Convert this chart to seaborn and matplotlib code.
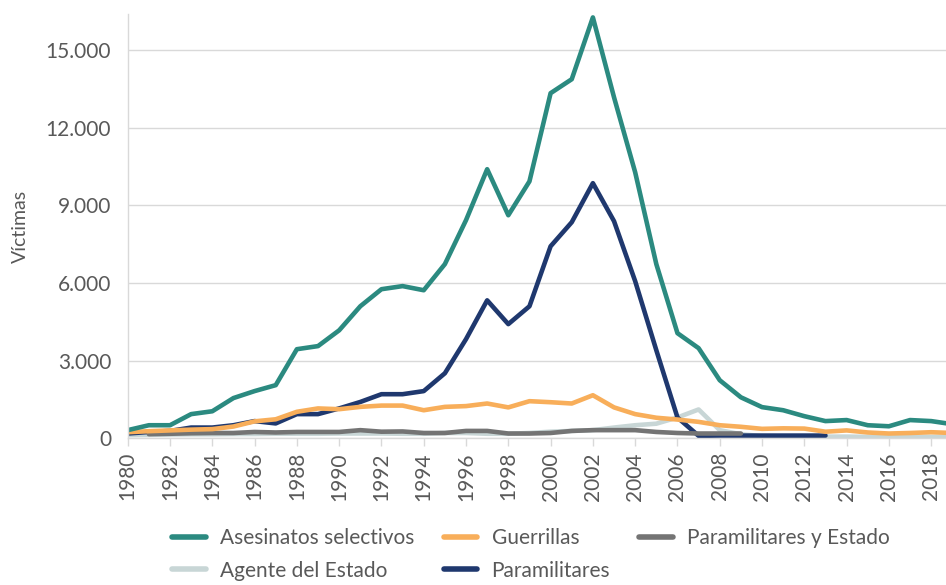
import numpy as np
import pandas as pd
import matplotlib
matplotlib.use('Agg')
import matplotlib.pyplot as plt
from matplotlib.lines import Line2D
from matplotlib.ticker import FuncFormatter
import seaborn as sns

sns.set_theme(style='white')
plt.rcParams['font.family'] = ['Lato', 'DejaVu Sans']

# Data
years = list(range(1980, 2020))

asesinatos = [310, 500, 500, 930, 1040, 1550, 1820, 2050, 3440, 3560,
              4170, 5100, 5760, 5880, 5720, 6730, 8430, 10400, 8620, 9930,
              13340, 13880, 16270, 13180, 10280, 6730, 4060, 3480, 2240, 1580,
              1200, 1080, 850, 660, 700, 500, 460, 700, 660, 540]

guerrillas = [230, 270, 300, 330, 350, 450, 650, 730, 1020, 1150,
              1120, 1210, 1260, 1260, 1080, 1210, 1240, 1340, 1190, 1430,
              1390, 1340, 1660, 1190, 930, 790, 720, 630, 500, 440,
              360, 380, 370, 250, 300, 220, 180, 200, 230, 200]

par_estado_years = list(range(1981, 2010))
par_estado = [155, 170, 190, 200, 200, 240, 220, 240, 240, 240,
              310, 250, 260, 200, 200, 280, 280, 180, 180, 200,
              280, 310, 310, 310, 240, 200, 180, 180, 180]

agente = [120, 130, 140, 150, 150, 160, 160, 170, 170, 170,
          180, 180, 180, 170, 170, 200, 200, 170, 170, 200,
          250, 280, 310, 410, 500, 560, 800, 1110, 310, 150,
          80, 70, 60, 60, 60, 50, 50, 50, 50, 50]

param_years = list(range(1980, 2014))
paramilitares = [180, 240, 280, 410, 410, 500, 660, 570, 930, 930,
                 1150, 1400, 1700, 1700, 1820, 2510, 3830, 5330, 4410, 5100,
                 7420, 8350, 9860, 8390, 6070, 3400, 800, 90, 100, 100,
                 100, 100, 100, 100]

names = ['Asesinatos selectivos', 'Guerrillas', 'Paramilitares y Estado',
         'Agente del Estado', 'Paramilitares']
colors = {'Asesinatos selectivos': '#2b8a80',
          'Guerrillas': '#f8ae5a',
          'Paramilitares y Estado': '#747474',
          'Agente del Estado': '#c8d6d6',
          'Paramilitares': '#1f386e'}

series = {'Asesinatos selectivos': (years, asesinatos),
          'Guerrillas': (years, guerrillas),
          'Paramilitares y Estado': (par_estado_years, par_estado),
          'Agente del Estado': (years, agente),
          'Paramilitares': (param_years, paramilitares)}

fig = plt.figure(figsize=(9.46, 5.85), dpi=100)
ax = fig.add_axes([0.135, 0.251, 0.865, 0.725])

draw_order = ['Agente del Estado', 'Paramilitares', 'Paramilitares y Estado',
              'Guerrillas', 'Asesinatos selectivos']
for name in draw_order:
    x, y = series[name]
    df = pd.DataFrame({'year': x, 'value': y})
    sns.lineplot(data=df, x='year', y='value', color=colors[name],
                 linewidth=3.3, ax=ax, legend=False)

ax.set_xlim(1980, 2018.7)
ax.set_ylim(0, 16400)
ax.set_yticks([0, 3000, 6000, 9000, 12000, 15000])
ax.yaxis.set_major_formatter(FuncFormatter(lambda v, p: f'{int(v):,}'.replace(',', '.')))
ax.set_xticks(list(range(1980, 2019, 2)))
ax.set_xticklabels([str(t) for t in range(1980, 2019, 2)], rotation=90)

ax.grid(axis='y', color='#d9d9d9', linewidth=1)
ax.set_axisbelow(True)
for s in ['top', 'right']:
    ax.spines[s].set_visible(False)
for s in ['left', 'bottom']:
    ax.spines[s].set_color('#d9d9d9')
    ax.spines[s].set_linewidth(1)

ax.tick_params(axis='x', colors='#595959', labelsize=15, length=6,
               width=1, direction='out', bottom=True, pad=4)
ax.tick_params(axis='x', color='#d9d9d9')
ax.tick_params(axis='y', colors='#595959', labelsize=15, length=0, pad=12)

ax.set_xlabel('')
ax.set_ylabel('Víctimas', color='#595959', fontsize=14, labelpad=12)

# matplotlib fills legend columns first; order so rows read like the reference
leg_order = ['Asesinatos selectivos', 'Agente del Estado', 'Guerrillas',
             'Paramilitares', 'Paramilitares y Estado']
handles = [Line2D([0], [0], color=colors[n], linewidth=4) for n in leg_order]
fig.legend(handles, leg_order, loc='upper left', bbox_to_anchor=(0.182, 0.097),
           ncol=3, frameon=False, fontsize=15, handlelength=1.6,
           columnspacing=1.4, labelcolor='#595959', handletextpad=0.7,
           labelspacing=0.6, borderaxespad=0, borderpad=0)

fig.savefig('out.png', dpi=100)
